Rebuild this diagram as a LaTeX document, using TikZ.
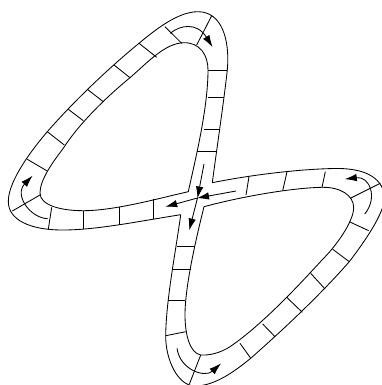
\documentclass[tikz,border=0pt]{standalone}
\usetikzlibrary{arrows.meta}
\tikzset{
  wall/.style={line width=0.85pt,line join=round},
  tick/.style={line width=0.85pt},
  flow/.style={line width=0.85pt,-{Latex[length=12pt,width=7.5pt]},shorten >=-0.5pt},
}
\begin{document}
\begin{tikzpicture}[x=1pt,y=-1pt]
\useasboundingbox (0,0) rectangle (382,385);
\clip (0,0) rectangle (382,385);
% top loop, outer
\draw[wall] (212.3,182.7) .. controls (218,140) and (224,100) .. (227.3,70)
  .. controls (230,40) and (222,12) .. (198.3,11.7)
  .. controls (178,11.5) and (155,30) .. (139,43.3)
  .. controls (110,67) and (75,100) .. (47.3,131.7)
  .. controls (35,146) and (8,180) .. (8.3,201.7)
  .. controls (8.5,220) and (30,229.5) .. (60,230)
  .. controls (95,230.5) and (140,221) .. (180.7,214.7);
% top loop, inner
\draw[wall] (188.3,191.7) .. controls (194,165) and (208,110) .. (208,70)
  .. controls (208,55) and (200,42.5) .. (184,42.7)
  .. controls (165,43) and (147,63) .. (130,77.7)
  .. controls (110,94) and (80,122) .. (63.3,148.3)
  .. controls (52,163) and (40,180) .. (40,193)
  .. controls (40,205) and (60,210.7) .. (83.3,210.7)
  .. controls (115,210.7) and (160,198) .. (188.3,191.7);
% lower loop, outer
\draw[wall] (212.3,182.7) .. controls (250,175) and (300,169) .. (335,168.5)
  .. controls (362,168) and (382,176) .. (384.5,196)
  .. controls (386,212) and (362,245) .. (349.3,261.7)
  .. controls (320,295) and (285,328) .. (250.7,358.3)
  .. controls (235,371) and (215,386) .. (195,386)
  .. controls (178,386) and (165.5,360) .. (165.7,335.7)
  .. controls (166,300) and (176,250) .. (180.7,214.7);
% lower loop, inner
\draw[wall] (204,206.7) .. controls (240,197) and (290,188) .. (322,187.3)
  .. controls (340,187) and (354,195) .. (353.7,208.3)
  .. controls (353,222) and (337,245) .. (322,260)
  .. controls (300,284) and (262,325) .. (230,346.7)
  .. controls (220,353) and (210,355.5) .. (200.7,355)
  .. controls (190,353) and (185,335) .. (185,315)
  .. controls (185,285) and (197,235) .. (204,206.7);
% rungs
\foreach \a/\b/\c/\d in {
197.3/151.7/216.7/151.7, 204.3/129/220/129, 208.3/97.5/224/97.5, 208/70/227.3/70,
196.7/45/211.7/15.7, 181.7/43.3/165/26.7, 156.7/57.3/139/43.3, 130/77.7/114/65,
103.3/101.7/87.3/89.3, 83.3/120.7/68.3/109.3, 64.3/145/47.3/131.7, 46.7/170.7/27.3/159.3,
40/195/12.3/211, 51.7/207.3/48.3/229.3, 83.3/210.7/83.3/229.3, 119.3/206.5/119.3/225, 153.3/199.3/153.3/219,
249/176.7/246/195, 287/171.7/282.7/190.7, 325.3/171.7/322/187.3, 380.3/183.3/350.3/198.3,
349.3/221.7/368.7/230.7, 332.7/249.3/349.3/261.7, 310.7/273.3/325/289, 286.7/297.3/302.3/312.3,
262.7/324/275/336.7, 240/343.3/250.7/358.3, 200.7/355/189.3/384.3, 185.7/331.7/165.7/335.7,
185/300.3/168.3/300.3, 191/269.7/173.3/269.7, 195/246/177.3/246}
  \draw[tick] (\a,\b) -- (\c,\d);
% centre arrows
\coordinate (hub) at (197.5,198);
\coordinate (n) at (204,164);
\coordinate (e) at (236,191);
\coordinate (s) at (189.3,230);
\coordinate (w) at (165.7,206.7);
\draw[flow] (n) -- (hub);
\draw[flow] (e) -- (hub);
\draw[flow] (hub) -- (s);
\draw[flow] (hub) -- (w);
% curved arrows
\draw[flow] (170.3,33.3) .. controls (180,25) and (197,22) .. (212.3,46.7);
\draw[flow] (47.7,218.7) .. controls (30,218) and (14,195) .. (32.3,176);
\draw[flow] (364.7,214) .. controls (378,198) and (370,176) .. (345.3,179);
\draw[flow] (177,348.3) .. controls (180,370) and (205,378) .. (220.7,363.7);
\end{tikzpicture}
\end{document}
